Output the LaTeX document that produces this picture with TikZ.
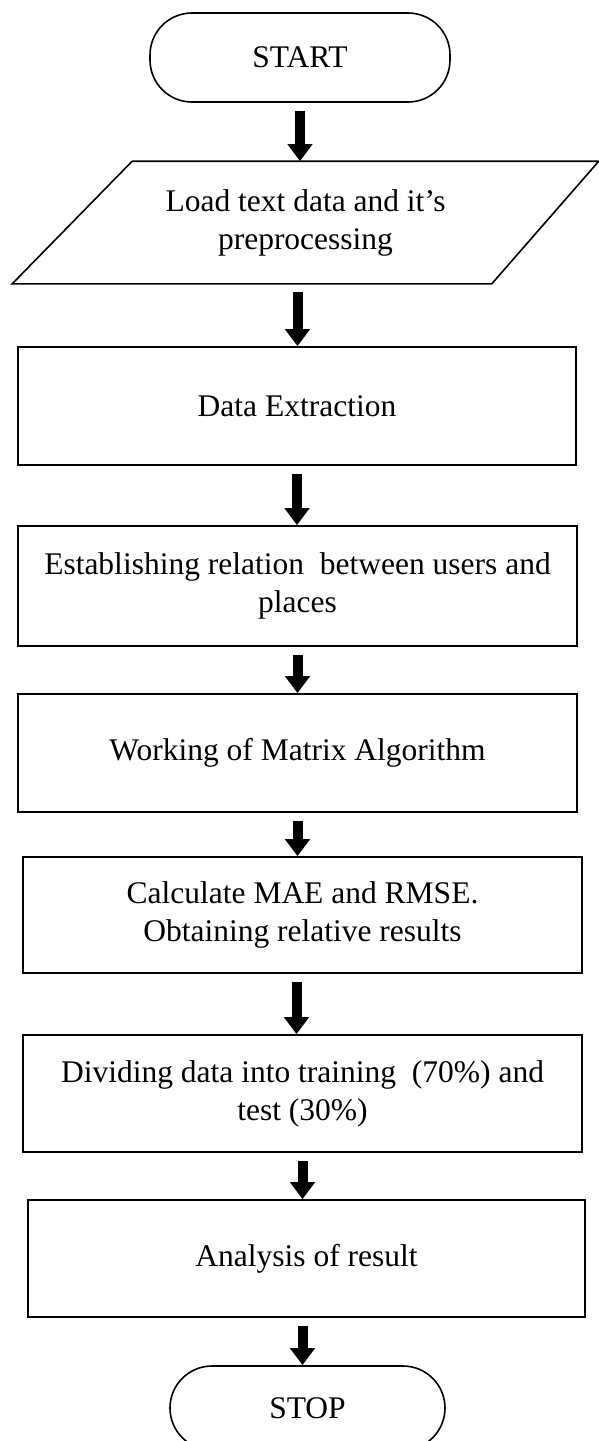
\documentclass[tikz,border=0pt]{standalone}
\usepackage{fontspec}
\setmainfont{Liberation Serif}
\usetikzlibrary{arrows.meta,calc}
\begin{document}
\begin{tikzpicture}[x=1pt,y=-1pt,
  base/.style={line width=1.6pt, font=\fontsize{31.5}{38}\selectfont, align=center, inner sep=0pt},
  term/.style={base, draw, rounded corners=42pt},
  proc/.style={base, draw},
  arr/.style={line width=10pt, -{Triangle[length=17pt,width=24pt]}, shorten <=8pt}]
\useasboundingbox (0,0) rectangle (599,1441);
\node[term, minimum width=300pt, minimum height=89pt] (start) at (300,57.5) {START};
\node[base, minimum width=585pt, minimum height=121pt] (load) at (305.5,222.5) {Load text data and it’s\\preprocessing};
\draw[line width=1.6pt] (load.south west) -- ($(load.south east)+(-107,0)$) -- (load.north east) -- ($(load.north west)+(120,0)$) -- cycle;
\node[proc, minimum width=558pt, minimum height=118pt] (extract) at (297,406) {Data Extraction};
\node[proc, minimum width=559pt, minimum height=120pt] (relation) at (297.5,586) {Establishing relation \ between users and\\places};
\node[proc, minimum width=559pt, minimum height=118pt] (matrix) at (297.5,753) {Working of Matrix Algorithm};
\node[proc, minimum width=559pt, minimum height=116pt] (mae) at (302.5,915) {Calculate MAE and RMSE.\\Obtaining relative results};
\node[proc, minimum width=559pt, minimum height=117pt] (divide) at (302.5,1093.5) {Dividing data into training \ (70\%) and\\test (30\%)};
\node[proc, minimum width=557pt, minimum height=117pt] (analysis) at (306.5,1258.5) {Analysis of result};
\node[term, minimum width=275pt, minimum height=84pt] (stop) at (307.5,1408) {STOP};
\coordinate (a2) at ($(load.south)+(-8,0)$);
\coordinate (a6) at ($(mae.south)+(-6,0)$);
\coordinate (a8) at ($(analysis.south)+(-4,0)$);
\draw[arr] (start.south) -- (start.south |- load.north);
\draw[arr] (a2) -- (a2 |- extract.north);
\draw[arr] (extract.south) -- (extract.south |- relation.north);
\draw[arr] (relation.south) -- (relation.south |- matrix.north);
\draw[arr] (matrix.south) -- (matrix.south |- mae.north);
\draw[arr] (a6) -- (a6 |- divide.north);
\draw[arr] (divide.south) -- (divide.south |- analysis.north);
\draw[arr] (a8) -- (a8 |- stop.north);
\end{tikzpicture}
\end{document}
